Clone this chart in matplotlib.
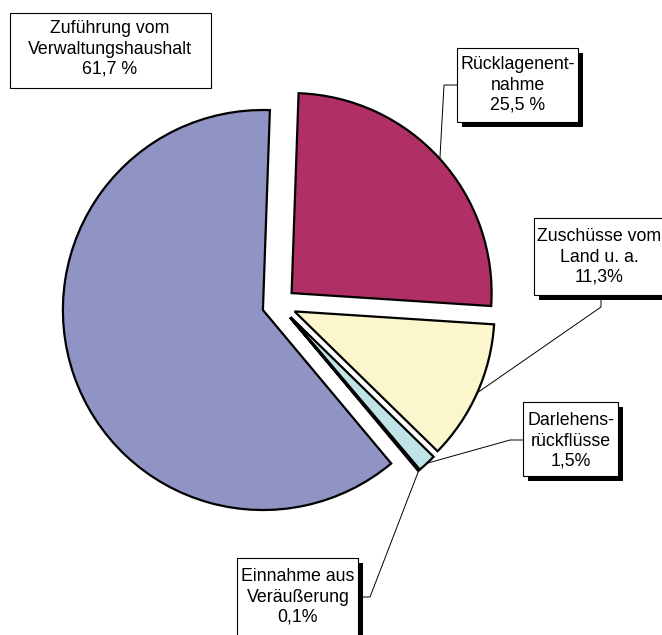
import numpy as np
import matplotlib.pyplot as plt
from matplotlib.patches import Rectangle

# Daten (Anteile in %)
labels = ["Zuführung vom\nVerwaltungshaushalt\n61,7 %",
          "Einnahme aus\nVeräußerung\n0,1%",
          "Darlehens-\nrückflüsse\n1,5%",
          "Zuschüsse vom\nLand u. a.\n11,3%",
          "Rücklagenent-\nnahme\n25,5 %"]
values = [61.7, 0.1, 1.5, 11.3, 25.5]
colors = ["#9094c4", "#7b7fc0", "#bfe3e6", "#fcf6cc", "#b02f64"]

W, H = 662, 635


def py(y):
    # Pixelkoordinate (oben=0) -> Datenkoordinate
    return H - y


# Layout der Beschriftungskästen: (links, oben, rechts, unten) in Pixeln
boxes = [(10, 13, 211, 88),
         (237, 558, 358, 642),
         (523, 402, 618, 476),
         (534, 218, 690, 295),
         (457, 48, 578, 122)]
text_pos = [(110, 49), (298, 597), (571, 441), (599, 257), (518, 85)]
shadow = [False, True, True, True, True]
# Knickpunkte der Führungslinien (vom Kasten aus)
leaders = [None,
           [(370, 597), (360, 597)],
           [(510, 440), (523, 440)],
           [(601, 307), (601, 295)],
           [(444, 85), (457, 85)]]


def main():
    fig = plt.figure(figsize=(W / 100, H / 100), dpi=100)
    ax = fig.add_axes([0, 0, 1, 1])

    radius = 200
    wedges, _ = ax.pie(values, colors=colors, explode=[17] * len(values),
                       radius=radius, center=(279, py(304.5)),
                       startangle=88, counterclock=True,
                       wedgeprops=dict(edgecolor="black", linewidth=1.6,
                                       joinstyle="miter"))

    for i, w in enumerate(wedges):
        l, t, r, b = boxes[i]
        if shadow[i]:
            ax.add_patch(Rectangle((l + 5, py(b + 5)), r - l, b - t,
                                   facecolor="black", edgecolor="none",
                                   zorder=5))
        ax.add_patch(Rectangle((l, py(b)), r - l, b - t, facecolor="white",
                               edgecolor="black", linewidth=0.8, zorder=6))
        ax.text(text_pos[i][0], py(text_pos[i][1]), labels[i],
                ha="center", va="center", fontsize=12.8,
                family="Liberation Sans", linespacing=1.25, zorder=7)

        if leaders[i] is not None:
            tm = np.deg2rad((w.theta1 + w.theta2) / 2)
            cx, cy = w.center
            ax0 = cx + radius * np.cos(tm)
            ay0 = cy + radius * np.sin(tm)
            xs = [ax0] + [p[0] for p in leaders[i]]
            ys = [ay0] + [py(p[1]) for p in leaders[i]]
            ax.plot(xs, ys, color="black", linewidth=0.7, zorder=4)

    ax.set_xlim(0, W)
    ax.set_ylim(0, H)
    ax.set_aspect("equal")
    ax.axis("off")

    fig.savefig("out.png", dpi=100)
    plt.close(fig)


if __name__ == "__main__":
    main()
